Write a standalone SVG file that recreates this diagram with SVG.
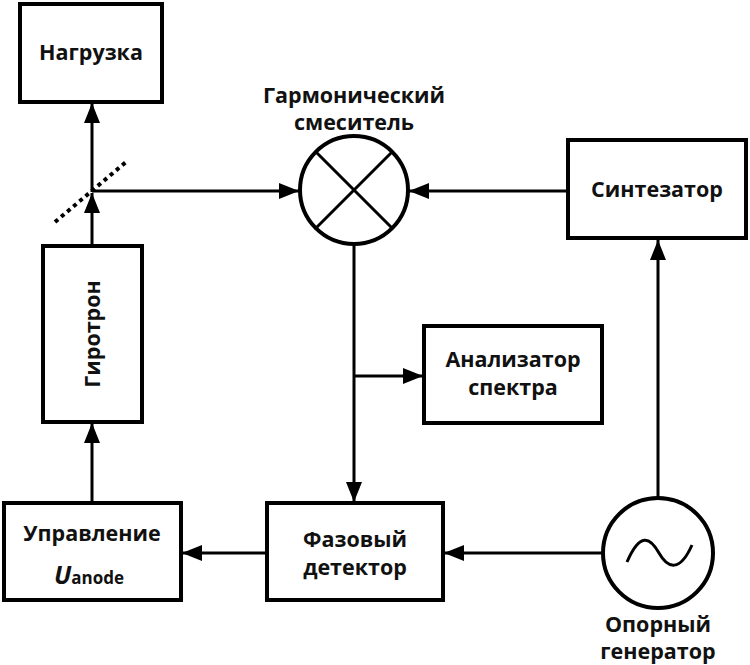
<svg xmlns="http://www.w3.org/2000/svg" width="750" height="665" viewBox="0 0 750 665">
<style>
.box{fill:#fff;stroke:#000;stroke-width:4}
.ln{fill:none;stroke:#000;stroke-width:3}
.t{font-family:"Open Sans","Liberation Sans",sans-serif;font-weight:bold;font-size:21.5px;fill:#111;text-anchor:middle}
</style>
<defs>
<marker id="ah" viewBox="0 0 20 16" refX="20" refY="8" markerWidth="20" markerHeight="16" markerUnits="userSpaceOnUse" orient="auto">
<path d="M0,0 L20,8 L0,16 Z" fill="#000"/>
</marker>
</defs>
<rect width="750" height="665" fill="#fff"/>
<g id="connectors">
<line class="ln" x1="92" y1="245" x2="92" y2="193" marker-end="url(#ah)"/>
<line class="ln" x1="92" y1="192" x2="92" y2="103" marker-end="url(#ah)"/>
<line x1="55" y1="222" x2="126" y2="162" stroke="#000" stroke-width="4" stroke-dasharray="4,4"/>
<line class="ln" x1="92" y1="191" x2="299" y2="191" marker-end="url(#ah)"/>
<line class="ln" x1="567" y1="191" x2="409" y2="191" marker-end="url(#ah)"/>
<line class="ln" x1="354" y1="244" x2="354" y2="502" marker-end="url(#ah)"/>
<line class="ln" x1="354" y1="376" x2="423" y2="376" marker-end="url(#ah)"/>
<line class="ln" x1="658" y1="498" x2="658" y2="240" marker-end="url(#ah)"/>
<line class="ln" x1="603" y1="553" x2="444" y2="553" marker-end="url(#ah)"/>
<line class="ln" x1="267" y1="553" x2="182" y2="553" marker-end="url(#ah)"/>
<line class="ln" x1="92" y1="502" x2="92" y2="423" marker-end="url(#ah)"/>
</g>
<g id="load">
<rect class="box" x="20" y="4" width="142" height="98"/>
<text class="t" x="91" y="60">Нагрузка</text>
</g>
<g id="gyrotron">
<rect class="box" x="43" y="246" width="99" height="176"/>
<text class="t" x="0" y="0" transform="translate(100,334) rotate(-90)">Гиротрон</text>
</g>
<g id="control">
<rect class="box" x="4" y="503" width="177" height="97"/>
<text class="t" x="92" y="541">Управление</text>
<text x="89" y="584" font-family="'Open Sans','Liberation Sans',sans-serif" font-weight="bold" text-anchor="middle" fill="#111"><tspan font-size="25" font-style="italic">U</tspan><tspan font-size="17">anode</tspan></text>
</g>
<g id="mixer">
<text class="t" x="354" y="103">Гармонический</text>
<text class="t" x="354" y="130">смеситель</text>
<circle cx="354" cy="190" r="54" fill="#fff" stroke="#000" stroke-width="4"/>
<line class="ln" x1="316" y1="152" x2="392" y2="228"/>
<line class="ln" x1="392" y1="152" x2="316" y2="228"/>
</g>
<g id="synth">
<rect class="box" x="568" y="140" width="178" height="98"/>
<text class="t" x="657" y="197">Синтезатор</text>
</g>
<g id="analyzer">
<rect class="box" x="424" y="326" width="178" height="97"/>
<text class="t" x="513" y="367">Анализатор</text>
<text class="t" x="513" y="395">спектра</text>
</g>
<g id="phase">
<rect class="box" x="267" y="503" width="176" height="97"/>
<text class="t" x="355" y="547">Фазовый</text>
<text class="t" x="355" y="575">детектор</text>
</g>
<g id="oscillator">
<circle cx="658" cy="553" r="55" fill="#fff" stroke="#000" stroke-width="4"/>
<path d="M627,562 C640,532 650,537 659,553 C668,569 680,572 692,545" fill="none" stroke="#000" stroke-width="3"/>
<text class="t" x="658" y="632">Опорный</text>
<text class="t" x="658" y="659">генератор</text>
</g>
</svg>
